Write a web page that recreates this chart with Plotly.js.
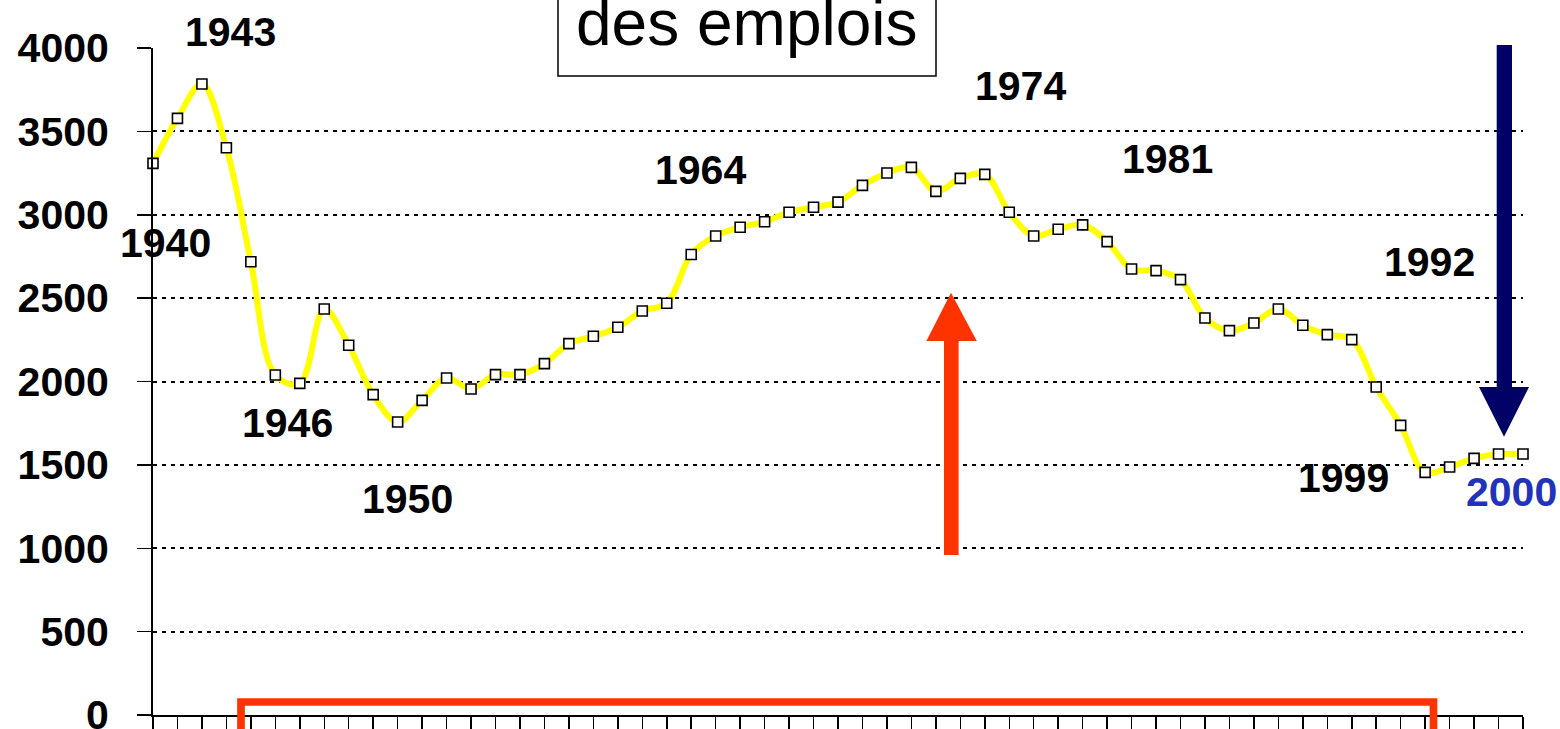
<!DOCTYPE html>
<html>
<head>
<meta charset="utf-8">
<script src="https://cdn.plot.ly/plotly-3.0.1.min.js"></script>
<style>html,body{margin:0;padding:0;background:#fff;}#chart{width:1560px;height:729px;}</style>
</head>
<body>
<div id="chart"></div>
<script>
// ---- data ----
const employment = [3308, 3578, 3784, 3402, 2718, 2039, 1989, 2435, 2217, 1921,
  1757, 1887, 2021, 1955, 2041, 2041, 2107, 2227, 2271, 2325,
  2423, 2469, 2762, 2873, 2925, 2958, 3015, 3045, 3076, 3176,
  3250, 3284, 3140, 3218, 3242, 3015, 2873, 2913, 2939, 2839,
  2675, 2665, 2611, 2381, 2305, 2351, 2435, 2337, 2281, 2251,
  1967, 1737, 1455, 1487, 1539, 1565, 1565];
const yTickValues = [0, 500, 1000, 1500, 2000, 2500, 3000, 3500, 4000];
const yTickLabels = ["0", "500", "1000", "1500", "2000", "2500", "3000", "3500", "4000"];
const yearLabels = ["1940", "1943", "1946", "1950", "1964", "1974", "1981", "1992", "1999", "2000"];
const titleText = "des emplois";

// ---- layout helpers (pixel -> paper) ----
const L = 153, R = 1523, T = 48, B = 715;
const px = x => (x - L) / (R - L);
const py = y => (B - y) / (B - T);
const P = (x, y) => px(x) + "," + py(y);

const xIdx = employment.map((_, i) => i);
const FONT = "Liberation Sans, Arial, sans-serif";

// label positions (pixel centres)
const labelPos = [[165, 242], [230, 31], [287, 422], [407, 498], [700, 169],
  [1020, 85], [1167, 158], [1429, 261], [1343, 477], [1511, 491]];
const labelColor = ["#000", "#000", "#000", "#000", "#000", "#000", "#000", "#000", "#000", "#2233BB"];

const annotations = yearLabels.map((t, i) => ({
  text: t, xref: "paper", yref: "paper",
  x: px(labelPos[i][0]), y: py(labelPos[i][1] + 1),
  xanchor: "center", yanchor: "middle", showarrow: false,
  font: {family: FONT, size: 41, weight: 700, color: labelColor[i]}
}));
annotations.push({
  text: titleText, xref: "paper", yref: "paper",
  x: px(747), y: py(23), xanchor: "center", yanchor: "middle", showarrow: false,
  font: {family: FONT, size: 64, color: "#000"}
});

const shapes = [
  // title box
  {type: "rect", xref: "paper", yref: "paper", x0: px(558), x1: px(936), y0: py(76), y1: py(-20),
   line: {color: "#000", width: 1.5}, fillcolor: "rgba(0,0,0,0)"},
  // red up arrow
  {type: "path", xref: "paper", yref: "paper",
   path: "M" + P(944, 555) + " L" + P(958.6, 555) + " L" + P(958.6, 341) + " L" + P(976.8, 341) +
         " L" + P(951, 292.7) + " L" + P(926.4, 341) + " L" + P(944, 341) + " Z",
   fillcolor: "#FF3300", line: {width: 0}},
  // navy down arrow
  {type: "path", xref: "paper", yref: "paper",
   path: "M" + P(1496.7, 45) + " L" + P(1512, 45) + " L" + P(1512, 387) + " L" + P(1529, 387) +
         " L" + P(1504, 436.7) + " L" + P(1479, 387) + " L" + P(1496.7, 387) + " Z",
   fillcolor: "#000066", line: {width: 0}},
  // red bracket at bottom
  {type: "path", xref: "paper", yref: "paper",
   path: "M" + P(241, 745) + " L" + P(241, 702) + " L" + P(1433.5, 702) + " L" + P(1433.5, 745),
   line: {color: "#FF3300", width: 7.7}}
];

const trace = {
  x: xIdx, y: employment, type: "scatter", mode: "lines+markers",
  line: {color: "#FFFF00", width: 6, shape: "spline", smoothing: 1},
  marker: {symbol: "square", size: 10, color: "#FFFFFF", line: {color: "#000", width: 1.6}},
  cliponaxis: false, hoverinfo: "skip"
};

const layout = {
  width: 1560, height: 729,
  margin: {l: L, r: 1560 - R, t: T, b: 729 - B, pad: 0},
  paper_bgcolor: "#fff", plot_bgcolor: "#fff",
  showlegend: false,
  xaxis: {range: [0, employment.length - 1], showgrid: false, zeroline: false,
    showline: true, linecolor: "#000", linewidth: 2,
    ticks: "outside", tick0: 0, dtick: 1, ticklen: 16, tickwidth: 1.5, tickcolor: "#000",
    showticklabels: false, fixedrange: true},
  yaxis: {range: [0, 4000], tickvals: yTickValues, ticktext: yTickLabels,
    showgrid: true, gridcolor: "#000", gridwidth: 2, griddash: "4px,5px",
    zeroline: false, showline: true, linecolor: "#000", linewidth: 2,
    ticks: "outside", ticklen: 14, tickwidth: 1.5, tickcolor: "#000",
    ticklabelstandoff: 20, ticklabeloverflow: "allow",
    tickfont: {family: FONT, size: 41, weight: 700, color: "#000"}, fixedrange: true},
  annotations: annotations,
  shapes: shapes
};

Plotly.newPlot("chart", [trace], layout, {displayModeBar: false, staticPlot: true});
</script>
</body>
</html>
